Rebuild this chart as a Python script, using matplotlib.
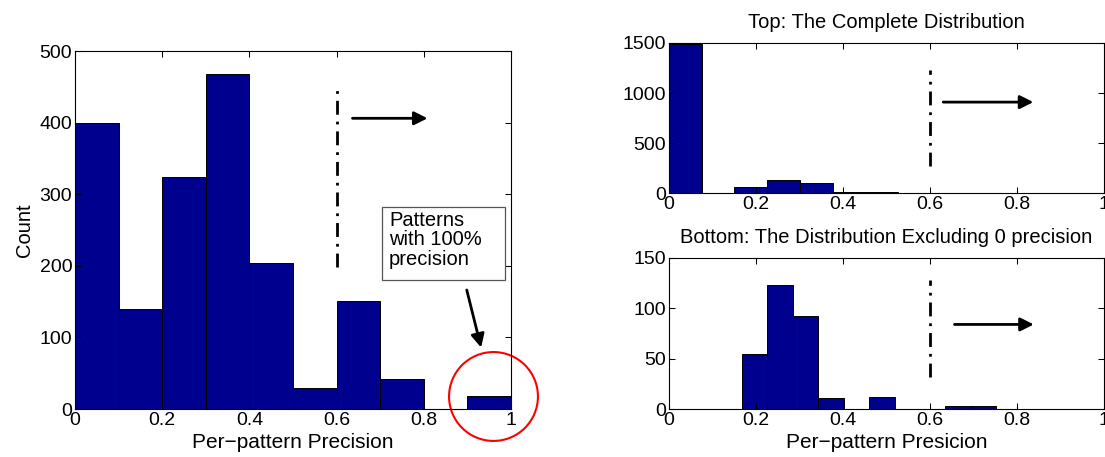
import numpy as np
import matplotlib
matplotlib.use("Agg")
import matplotlib.pyplot as plt
from matplotlib.patches import Rectangle

plt.rcParams['font.family'] = ['Liberation Sans', 'DejaVu Sans']
plt.rcParams['font.size'] = 14

# left panel: 10 bins over [0, 1]
left_edges = np.linspace(0, 1, 11)
left_counts = [400, 139, 324, 468, 204, 29, 151, 42, 0, 18]

# right top: complete distribution
top_edges = np.linspace(0, 0.752, 11)
top_counts = [1490, 3, 56, 126, 100, 10, 14, 2, 3, 3]

# right bottom: excluding 0 precision
bot_edges = np.linspace(0.168, 0.752, 11)
bot_counts = [55, 123, 92, 11, 0, 12, 0, 0, 3, 3]

xticks = [0, 0.2, 0.4, 0.6, 0.8, 1]
xticklabels = ['0', '0.2', '0.4', '0.6', '0.8', '1']

BAR = '#00008f'


def style_axes(ax, ymax, yticks):
    ax.set_xlim(0, 1)
    ax.set_ylim(0, ymax)
    ax.set_xticks(xticks)
    ax.set_xticklabels(xticklabels)
    ax.set_yticks(yticks)
    ax.tick_params(direction='in', top=True, right=True, length=4, width=0.75,
                   labelsize=14, pad=2)
    for s in ax.spines.values():
        s.set_linewidth(0.8)


def draw_hist(ax, edges, counts):
    ax.bar(edges[:-1], counts, width=np.diff(edges), align='edge',
           color=BAR, edgecolor='black', linewidth=0.7)


def marker(ax, x, y0, y1, ax_from, ax_to, ay):
    ax.plot([x, x], [y0, y1], color='black', lw=2, linestyle=(0, (5, 2.5, 1, 2.5)))
    ax.annotate('', xy=(ax_to, ay), xytext=(ax_from, ay),
                arrowprops=dict(arrowstyle='-|>', color='black', lw=2,
                                mutation_scale=20))


fig = plt.figure(figsize=(11.05, 4.57), dpi=100)

ax1 = fig.add_axes([75 / 1105, 48 / 457, 436 / 1105, 358 / 457])
draw_hist(ax1, left_edges, left_counts)
style_axes(ax1, 500, [0, 100, 200, 300, 400, 500])
ax1.set_ylabel('Count', fontsize=14.5, labelpad=4)
ax1.set_xlabel('Per\u2212pattern Precision', fontsize=15, labelpad=3)
marker(ax1, 0.6, 199, 451, 0.63, 0.815, 406)
ax1.add_patch(Rectangle((0.703, 180), 0.284, 102.5, fc='white', ec='#555555',
                        lw=0.9, zorder=3))
ax1.text(0.72, 277, 'Patterns\nwith 100%\nprecision', fontsize=14.5, va='top',
         ha='left', linespacing=1.05, zorder=4)
ax1.annotate('', xy=(0.933, 82), xytext=(0.897, 170),
             arrowprops=dict(arrowstyle='-|>', color='black', lw=2,
                             mutation_scale=20))
ax1.plot([0.959], [18], 'o', ms=64, mfc='none', mec='red', mew=1.5, clip_on=False)

ax2 = fig.add_axes([669 / 1105, 264 / 457, 435 / 1105, 150 / 457])
draw_hist(ax2, top_edges, top_counts)
style_axes(ax2, 1500, [0, 500, 1000, 1500])
ax2.set_title('Top: The Complete Distribution', fontsize=14.5, pad=11)
marker(ax2, 0.6, 272, 1234, 0.624, 0.844, 909)

ax3 = fig.add_axes([669 / 1105, 48 / 457, 435 / 1105, 151 / 457])
draw_hist(ax3, bot_edges, bot_counts)
style_axes(ax3, 150, [0, 50, 100, 150])
ax3.set_title('Bottom: The Distribution Excluding 0 precision', fontsize=14.5, pad=11)
ax3.set_xlabel('Per\u2212pattern Presicion', fontsize=15, labelpad=3)
marker(ax3, 0.6, 32, 128, 0.65, 0.845, 84)

fig.savefig('out.png', dpi=100)
